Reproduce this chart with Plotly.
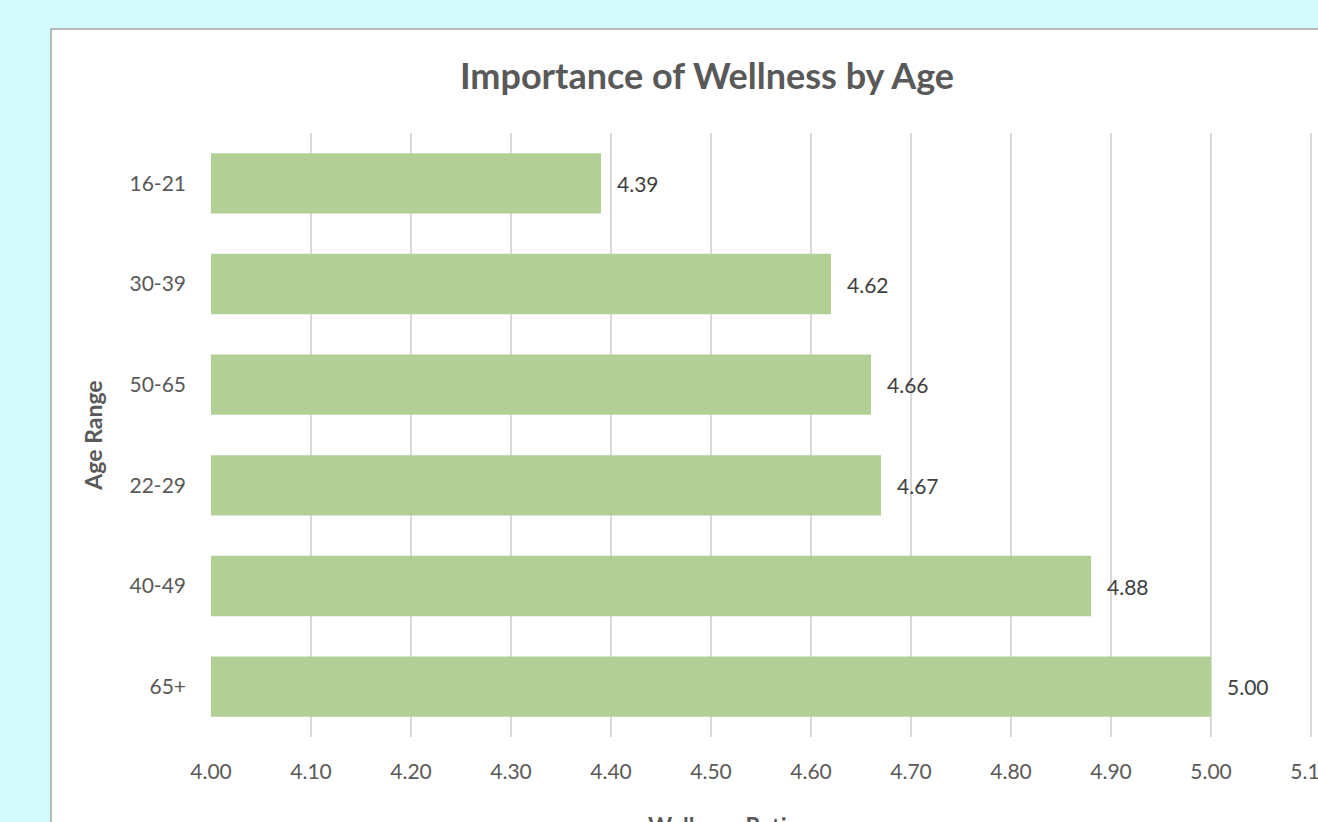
import plotly.graph_objects as go

# Average wellness rating per age band, listed top to bottom
age_ranges = ["16-21", "30-39", "50-65", "22-29", "40-49", "65+"]
ratings = [4.39, 4.62, 4.66, 4.67, 4.88, 5.00]
x_ticks = [4.0, 4.1, 4.2, 4.3, 4.4, 4.5, 4.6, 4.7, 4.8, 4.9, 5.0, 5.1]

W, H = 1318, 822
L, R, T, B = 211, 0, 133, 85
plot_w, plot_h = W - L - R, H - T - B

FONT = "Lato, 'Open Sans', sans-serif"
BAR = "#b2cf96"

fig = go.Figure(
    go.Bar(
        x=ratings,
        y=age_ranges,
        orientation="h",
        marker=dict(color=BAR, line=dict(width=0)),
        width=0.6,
        hoverinfo="x+y",
    )
)

# value labels next to each bar end
for cat, val in zip(age_ranges, ratings):
    fig.add_annotation(
        x=val, y=cat, xref="x", yref="y",
        text=f"{val:.2f}", showarrow=False,
        xanchor="left", yanchor="middle", xshift=14,
        font=dict(family=FONT, size=21, color="#404040"),
    )

# x-axis title, sitting low near the page edge
fig.add_annotation(
    x=(730 - L) / plot_w, y=(H - B - 809) / plot_h, xref="paper", yref="paper",
    text="<b>Wellness Rating</b>", showarrow=False,
    xanchor="center", yanchor="top",
    font=dict(family=FONT, size=23, color="#595959"),
)

# white chart card with a grey frame
fig.add_shape(
    type="rect", xref="paper", yref="paper", layer="below",
    x0=(51 - L) / plot_w, x1=1.3,
    y0=-0.5, y1=(H - B - 29) / plot_h,
    fillcolor="white", line=dict(color="#b8b8b8", width=2),
)

fig.update_layout(
    width=W, height=H,
    margin=dict(l=L, r=R, t=T, b=B, pad=0, autoexpand=False),
    paper_bgcolor="#d3fbfe",
    plot_bgcolor="rgba(0,0,0,0)",
    showlegend=False,
    bargap=0.4,
    title=dict(
        text="<b>Importance of Wellness by Age</b>",
        x=707 / W, xanchor="center",
        y=1 - 76 / H, yanchor="middle",
        font=dict(family=FONT, size=36, color="#595959"),
    ),
    xaxis=dict(
        range=[4.0, 4.0 + plot_w / 1000],
        tickvals=x_ticks,
        ticktext=[f"{v:.2f}" for v in x_ticks],
        ticklabeloverflow="allow",
        automargin=False,
        showgrid=True, gridcolor="#d9d9d9", gridwidth=2,
        zeroline=False, showline=False, ticks="",
        ticklabelstandoff=20,
        tickfont=dict(family=FONT, size=21, color="#595959"),
        fixedrange=True,
    ),
    yaxis=dict(
        autorange="reversed",
        automargin=False,
        showgrid=False, zeroline=False, showline=False, ticks="",
        ticklabelstandoff=24,
        tickfont=dict(family=FONT, size=21, color="#595959"),
        title=dict(text="<b>Age Range</b>", standoff=20,
                   font=dict(family=FONT, size=23, color="#595959")),
        fixedrange=True,
    ),
)

fig.write_html("out.html")
